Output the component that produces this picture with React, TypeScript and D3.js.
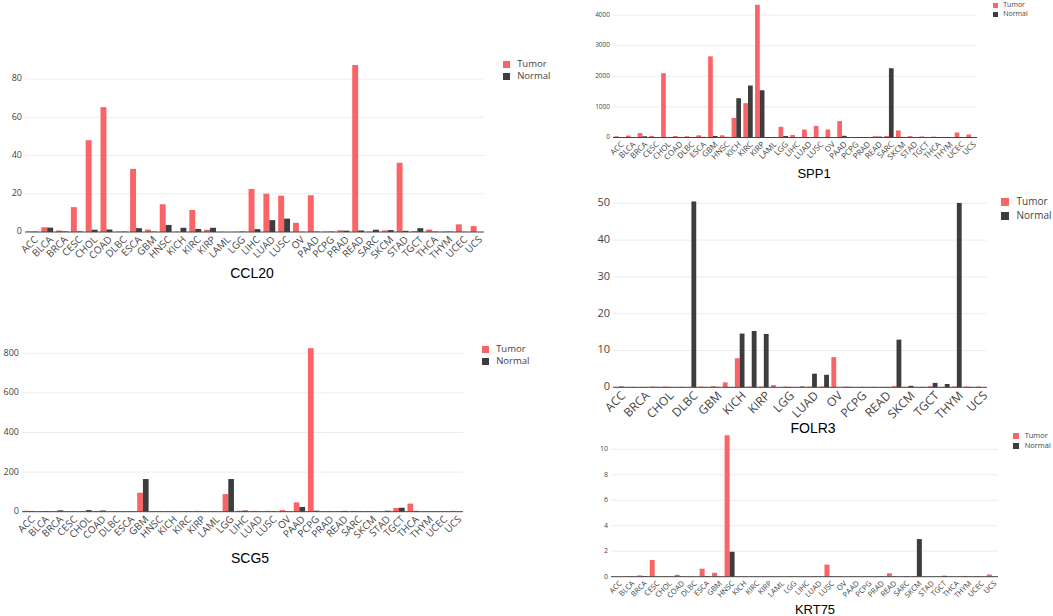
import * as d3 from "d3";

const cancerTypes = [
  "ACC", "BLCA", "BRCA", "CESC", "CHOL", "COAD", "DLBC", "ESCA", "GBM", "HNSC",
  "KICH", "KIRC", "KIRP", "LAML", "LGG", "LIHC", "LUAD", "LUSC", "OV", "PAAD",
  "PCPG", "PRAD", "READ", "SARC", "SKCM", "STAD", "TGCT", "THCA", "THYM", "UCEC", "UCS",
];
const groups = ["Tumor", "Normal"];

const ccl20Tumor = [0.3, 2.5, 0.8, 13, 48, 65.3, 0.2, 33, 1.3, 14.5, 0.2, 11.5, 1.2, 0.1, 0.1, 22.5, 20, 19, 4.8, 19.2, 0.2, 0.9, 87.3, 0.2, 0.8, 36.2, 0.5, 1.3, 0.2, 4, 3.1];
const ccl20Normal = [0.2, 2.3, 0.3, 0.3, 1.2, 1.3, 0.2, 2, 0.2, 3.7, 2.2, 1.6, 2.2, 0, 0.2, 1.5, 6.2, 7, 0.1, 0.2, 0.2, 0.7, 0.8, 1.2, 1, 0.6, 2, 0.2, 0.2, 0.1, 0];

const spp1Tumor = [40, 60, 145, 50, 2100, 50, 40, 70, 2650, 70, 640, 1120, 4335, 15, 350, 80, 260, 380, 260, 535, 15, 15, 40, 50, 230, 45, 35, 30, 10, 164, 98];
const spp1Normal = [5, 15, 40, 10, 10, 15, 10, 20, 50, 20, 1283, 1698, 1543, 0, 50, 15, 15, 15, 10, 55, 5, 5, 30, 2262, 0, 10, 5, 10, 15, 10, 0];

const scg5Tumor = [5, 3, 3, 2, 2, 4, 2, 2, 96, 2, 2, 3, 4, 2, 89, 5, 4, 4, 8, 47, 826, 2, 3, 4, 2, 2, 19, 41, 2, 2, 4];
const scg5Normal = [3, 3, 7, 2, 8, 6, 2, 2, 165, 2, 2, 2, 2, 0, 165, 6, 2, 2, 1, 24, 5, 2, 4, 2, 2, 5, 20, 4, 2, 2, 1];

const folr3Tumor = [0.1, 0.1, 0.1, 0.2, 0.2, 0.1, 0.1, 0.2, 0.3, 1.35, 7.9, 0.2, 0.2, 0.6, 0.2, 0.1, 0.2, 0.2, 8.2, 0.2, 0.1, 0.1, 0.1, 0.3, 0.1, 0.1, 0.3, 0.1, 0.2, 0.2, 0.2];
const folr3Normal = [0.2, 0.1, 0.1, 0.1, 0.1, 0.1, 50.5, 0.1, 0.1, 0.1, 14.6, 15.3, 14.5, 0, 0.1, 0.2, 3.7, 3.4, 0, 0.1, 0.1, 0.1, 0.1, 12.95, 0.4, 0.1, 1.2, 0.9, 50.1, 0.1, 0];

const krt75Tumor = [0.02, 0.05, 0.1, 1.31, 0.03, 0.15, 0.02, 0.63, 0.31, 11.1, 0.01, 0.01, 0.01, 0.01, 0.02, 0.01, 0.03, 0.95, 0.02, 0.03, 0.02, 0.02, 0.27, 0.02, 0.05, 0.02, 0.02, 0.01, 0.06, 0.06, 0.17];
const krt75Normal = [0, 0.02, 0.05, 0.02, 0.02, 0.02, 0, 0.05, 0.02, 1.96, 0.01, 0.01, 0.01, 0, 0.01, 0.01, 0.02, 0.02, 0, 0.01, 0.01, 0.03, 0.02, 0.03, 2.95, 0.01, 0.07, 0.01, 0.02, 0.01, 0];

const ccl20Ticks = [0, 20, 40, 60, 80];
const spp1Ticks = [0, 1000, 2000, 3000, 4000];
const scg5Ticks = [0, 200, 400, 600, 800];
const folr3Ticks = [0, 10, 20, 30, 40, 50];
const krt75Ticks = [0, 2, 4, 6, 8, 10];

const TUMOR = "#f96466";
const NORMAL = "#3d3d3d";
const FONT = "'Open Sans', 'DejaVu Sans', sans-serif";

type Panel = {
  gene: string;
  tumor: number[];
  normal: number[];
  ticks: number[];
  left: number;
  right: number;
  base: number;
  topPx: number;
  tickFont: number;
  xFont: number;
  labelEvery: number;
  title: { x: number; y: number; size: number };
  legend: { x: number; y: number; size: number; gap: number; font: number };
};

const panels: Panel[] = [
  {
    gene: "CCL20", tumor: ccl20Tumor, normal: ccl20Normal, ticks: ccl20Ticks,
    left: 25, right: 484, base: 232, topPx: 79, tickFont: 9, xFont: 10, labelEvery: 1,
    title: { x: 252, y: 278, size: 14 },
    legend: { x: 503, y: 61, size: 7, gap: 12, font: 9.5 },
  },
  {
    gene: "SPP1", tumor: spp1Tumor, normal: spp1Normal, ticks: spp1Ticks,
    left: 613, right: 977, base: 137.5, topPx: 15, tickFont: 6.5, xFont: 8, labelEvery: 1,
    title: { x: 814, y: 178, size: 13 },
    legend: { x: 993, y: 3, size: 5, gap: 9, font: 7 },
  },
  {
    gene: "SCG5", tumor: scg5Tumor, normal: scg5Normal, ticks: scg5Ticks,
    left: 22, right: 463, base: 511.7, topPx: 353.3, tickFont: 9, xFont: 10, labelEvery: 1,
    title: { x: 250, y: 563, size: 14 },
    legend: { x: 482, y: 346, size: 7, gap: 12, font: 9.5 },
  },
  {
    gene: "FOLR3", tumor: folr3Tumor, normal: folr3Normal, ticks: folr3Ticks,
    left: 613, right: 987, base: 387.3, topPx: 203.3, tickFont: 11, xFont: 12, labelEvery: 2,
    title: { x: 813, y: 433, size: 14 },
    legend: { x: 1001, y: 198, size: 8, gap: 14, font: 10 },
  },
  {
    gene: "KRT75", tumor: krt75Tumor, normal: krt75Normal, ticks: krt75Ticks,
    left: 611, right: 998, base: 576.7, topPx: 449.3, tickFont: 7, xFont: 7.5, labelEvery: 1,
    title: { x: 815, y: 614, size: 13 },
    legend: { x: 1013, y: 433, size: 6, gap: 10, font: 7.5 },
  },
];

function BarPanel({ p }: { p: Panel }) {
  const x = d3.scaleBand<string>().domain(cancerTypes).range([p.left, p.right]).paddingInner(0.2).paddingOuter(0.1);
  const inner = d3.scaleBand<string>().domain(groups).range([0, x.bandwidth()]);
  const maxTick = p.ticks[p.ticks.length - 1];
  const y = d3.scaleLinear().domain([0, maxTick]).range([p.base, p.topPx]);
  const rows = cancerTypes.map((c, i) => ({ c, values: [p.tumor[i], p.normal[i]] }));

  return (
    <g>
      {p.ticks.map((t) => (
        <g key={t}>
          {t > 0 && (
            <line x1={p.left} x2={p.right} y1={y(t)} y2={y(t)} stroke="#ececec" strokeWidth={1} />
          )}
          <text x={p.left - 3} y={y(t)} textAnchor="end" dominantBaseline="middle" fontSize={p.tickFont} fill="#444" fontFamily={FONT}>
            {t}
          </text>
        </g>
      ))}
      {rows.map((r) => (
        <g key={r.c} transform={`translate(${x(r.c)},0)`}>
          {groups.map((g, gi) => (
            <rect
              key={g}
              x={inner(g)}
              y={y(r.values[gi])}
              width={inner.bandwidth()}
              height={p.base - y(r.values[gi])}
              fill={gi === 0 ? TUMOR : NORMAL}
            />
          ))}
        </g>
      ))}
      <line x1={p.left} x2={p.right} y1={p.base} y2={p.base} stroke="#444" strokeWidth={1} />
      {cancerTypes.map((c, i) =>
        i % p.labelEvery === 0 ? (
          <text
            key={c}
            transform={`translate(${(x(c) ?? 0) + x.bandwidth() / 2 + 2},${p.base + 4}) rotate(-45)`}
            textAnchor="end"
            dy="0.6em"
            fontSize={p.xFont}
            fill="#444"
            fontFamily={FONT}
          >
            {c}
          </text>
        ) : null
      )}
      <text x={p.title.x} y={p.title.y} textAnchor="middle" fontSize={p.title.size} fill="#000" fontFamily="'Liberation Sans', Arial, sans-serif">
        {p.gene}
      </text>
      {groups.map((g, gi) => (
        <g key={g} transform={`translate(${p.legend.x},${p.legend.y + gi * p.legend.gap})`}>
          <rect width={p.legend.size} height={p.legend.size} fill={gi === 0 ? TUMOR : NORMAL} />
          <text
            x={p.legend.size + p.legend.font * 0.75}
            y={p.legend.size / 2}
            dominantBaseline="middle"
            fontSize={p.legend.font}
            fill="#444"
            fontFamily={FONT}
          >
            {g}
          </text>
        </g>
      ))}
    </g>
  );
}

export default function App() {
  return (
    <svg
      width={1053}
      height={616}
      viewBox="0 0 1053 616"
      style={{ position: "absolute", left: 0, top: 0, background: "#fff" }}
    >
      <rect width={1053} height={616} fill="#fff" />
      {panels.map((p) => (
        <BarPanel key={p.gene} p={p} />
      ))}
    </svg>
  );
}
